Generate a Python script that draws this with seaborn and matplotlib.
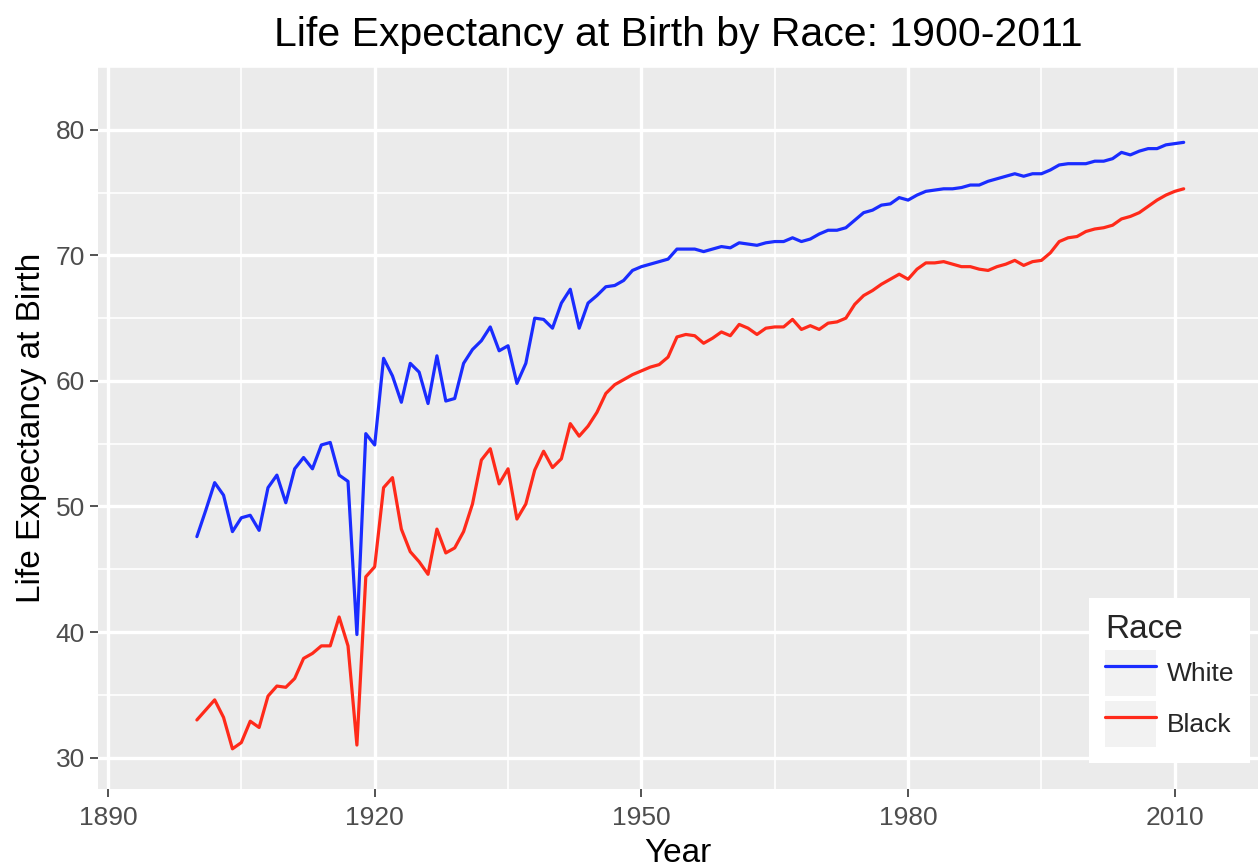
import numpy as np
import pandas as pd
import matplotlib
matplotlib.use("Agg")
import matplotlib.pyplot as plt
from matplotlib.lines import Line2D
from matplotlib.patches import Patch
from matplotlib.legend_handler import HandlerTuple
from matplotlib.ticker import MultipleLocator
import seaborn as sns


years = list(range(1900, 2012))

white = [
    47.6, 49.7, 51.9, 50.9, 48.0, 49.1, 49.3, 48.1, 51.5, 52.5,  # 1900s
    50.3, 53.0, 53.9, 53.0, 54.9, 55.1, 52.5, 52.0, 39.8, 55.8,  # 1910s
    54.9, 61.8, 60.4, 58.3, 61.4, 60.7, 58.2, 62.0, 58.4, 58.6,  # 1920s
    61.4, 62.5, 63.2, 64.3, 62.4, 62.8, 59.8, 61.4, 65.0, 64.9,  # 1930s
    64.2, 66.2, 67.3, 64.2, 66.2, 66.8, 67.5, 67.6, 68.0, 68.8,  # 1940s
    69.1, 69.3, 69.5, 69.7, 70.5, 70.5, 70.5, 70.3, 70.5, 70.7,  # 1950s
    70.6, 71.0, 70.9, 70.8, 71.0, 71.1, 71.1, 71.4, 71.1, 71.3,  # 1960s
    71.7, 72.0, 72.0, 72.2, 72.8, 73.4, 73.6, 74.0, 74.1, 74.6,  # 1970s
    74.4, 74.8, 75.1, 75.2, 75.3, 75.3, 75.4, 75.6, 75.6, 75.9,  # 1980s
    76.1, 76.3, 76.5, 76.3, 76.5, 76.5, 76.8, 77.2, 77.3, 77.3,  # 1990s
    77.3, 77.5, 77.5, 77.7, 78.2, 78.0, 78.3, 78.5, 78.5, 78.8,  # 2000s
    78.9, 79.0,
]

black = [
    33.0, 33.8, 34.6, 33.2, 30.7, 31.2, 32.9, 32.4, 34.9, 35.7,
    35.6, 36.3, 37.9, 38.3, 38.9, 38.9, 41.2, 38.9, 31.0, 44.4,
    45.2, 51.5, 52.3, 48.2, 46.4, 45.6, 44.6, 48.2, 46.3, 46.7,
    48.0, 50.2, 53.7, 54.6, 51.8, 53.0, 49.0, 50.2, 52.9, 54.4,
    53.1, 53.8, 56.6, 55.6, 56.4, 57.5, 59.0, 59.7, 60.1, 60.5,
    60.8, 61.1, 61.3, 61.9, 63.5, 63.7, 63.6, 63.0, 63.4, 63.9,
    63.6, 64.5, 64.2, 63.7, 64.2, 64.3, 64.3, 64.9, 64.1, 64.4,
    64.1, 64.6, 64.7, 65.0, 66.1, 66.8, 67.2, 67.7, 68.1, 68.5,
    68.1, 68.9, 69.4, 69.4, 69.5, 69.3, 69.1, 69.1, 68.9, 68.8,
    69.1, 69.3, 69.6, 69.2, 69.5, 69.6, 70.2, 71.1, 71.4, 71.5,
    71.9, 72.1, 72.2, 72.4, 72.9, 73.1, 73.4, 73.9, 74.4, 74.8,
    75.1, 75.3,
]

races = ["White", "Black"]
race_colors = ["#1a2cff", "#ff2a1a"]

df = pd.DataFrame({
    "Year": years * 2,
    "Life": white + black,
    "Race": ["White"] * len(years) + ["Black"] * len(years),
})

sns.set_theme(style="darkgrid", rc={
    "axes.facecolor": "#EBEBEB",
    "grid.color": "white",
    "axes.edgecolor": "#EBEBEB",
})
plt.rcParams["font.family"] = ["Liberation Sans", "DejaVu Sans"]

fig, ax = plt.subplots(figsize=(12.59, 8.68), dpi=100)
fig.subplots_adjust(left=0.078, right=0.9995, top=0.9228, bottom=0.091)

sns.lineplot(data=df, x="Year", y="Life", hue="Race", hue_order=races,
             palette=dict(zip(races, race_colors)), linewidth=2.3,
             legend=False, ax=ax)

ax.set_xlim(1888.9, 2019.4)
ax.set_ylim(27.5, 85.0)
ax.xaxis.set_major_locator(MultipleLocator(30))
ax.xaxis.set_minor_locator(MultipleLocator(15))
ax.yaxis.set_major_locator(MultipleLocator(10))
ax.yaxis.set_minor_locator(MultipleLocator(5))
ax.grid(which="major", color="white", linewidth=2.4)
ax.grid(which="minor", color="white", linewidth=1.2)
for s in ax.spines.values():
    s.set_visible(False)

ax.tick_params(which="major", length=5.5, width=1.3, color="#444444",
               labelsize=19, labelcolor="#4D4D4D", bottom=True, left=True)
ax.tick_params(axis="x", pad=6.5)
ax.tick_params(axis="y", pad=4)
ax.tick_params(which="minor", length=0)

ax.set_title("Life Expectancy at Birth by Race: 1900-2011", fontsize=29.5,
             color="black", pad=15)
ax.set_xlabel("Year", fontsize=24, color="black", labelpad=6)
ax.set_ylabel("Life Expectancy at Birth", fontsize=24, color="black", labelpad=6.5)

# legend keys: light gray square with the coloured line on top
handles = [(Patch(facecolor="#F2F2F2", edgecolor="none"),
            Line2D([], [], color=c, linewidth=2.3)) for c in race_colors]
leg = ax.legend(handles, races, handler_map={tuple: HandlerTuple(ndivide=1, pad=0)},
                title="Race", loc="lower left", bbox_to_anchor=(0.854, 0.036),
                borderaxespad=0, fontsize=19, title_fontsize=24,
                frameon=True, facecolor="white", edgecolor="none", framealpha=1,
                fancybox=False, handlelength=1.95, handleheight=2.3,
                handletextpad=0.4, labelspacing=0.2, borderpad=0.6,
                alignment="left")

fig.savefig("out.png", dpi=100)
